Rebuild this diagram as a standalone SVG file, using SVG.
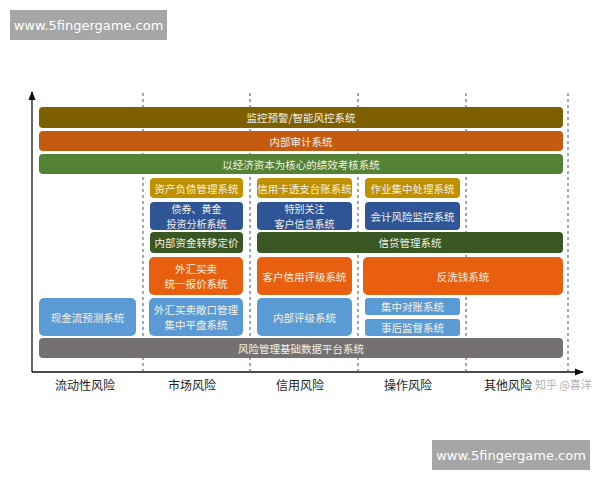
<svg xmlns="http://www.w3.org/2000/svg" width="600" height="480" viewBox="0 0 600 480">
<defs>
<style>
text{font-family:"Noto Sans CJK SC","Liberation Sans",sans-serif;}
.t{fill:#f4f1e6;font-size:10.5px;text-anchor:middle;dominant-baseline:central;}
.t2{fill:#f4f1e6;font-size:10px;text-anchor:middle;dominant-baseline:central;}
.ax{fill:#222;font-size:12px;text-anchor:middle;dominant-baseline:central;}
.dash{stroke:#8497b0;stroke-width:1.6;stroke-dasharray:3,3;fill:none;}
.wm{fill:#a6a6a6;}
.wmt{fill:#fff;font-family:"DejaVu Sans",sans-serif;font-size:13px;text-anchor:middle;dominant-baseline:central;}
.b1{fill:#7f6000;}.b2{fill:#c55a11;}.b3{fill:#548235;}.b4{fill:#bf9000;}
.b5{fill:#2f5597;}.b6{fill:#385723;}.b7{fill:#e8600f;}.b8{fill:#5b9bd5;}.b9{fill:#767171;}
</style>
<marker id="ar" viewBox="0 0 10 10" refX="9" refY="5" markerWidth="7" markerHeight="7" orient="auto-start-reverse">
<path d="M0,1 L10,5 L0,9 z" fill="#111"/>
</marker>
</defs>
<rect width="600" height="480" fill="#fff"/>
<g id="watermark-top"><rect class="wm" x="10" y="10" width="157" height="30"/><text class="wmt" x="88.5" y="25">www.5fingergame.com</text></g>
<g id="watermark-bottom"><rect class="wm" x="432" y="440" width="158" height="30"/><text class="wmt" x="511" y="455">www.5fingergame.com</text></g>
<g id="connectors">
<line class="dash" x1="143" y1="93" x2="143" y2="371"/>
<line class="dash" x1="250" y1="93" x2="250" y2="371"/>
<line class="dash" x1="358" y1="93" x2="358" y2="371"/>
<line class="dash" x1="466" y1="93" x2="466" y2="371"/>
<line class="dash" x1="568" y1="93" x2="568" y2="371"/>
<line x1="32" y1="372" x2="32" y2="92" stroke="#111" stroke-width="1.3" marker-end="url(#ar)"/>
<line x1="32" y1="372" x2="583" y2="372" stroke="#111" stroke-width="1.3" marker-end="url(#ar)"/>
</g>
<g id="n1"><rect class="b1" x="39" y="107" width="524" height="21" rx="4"/><text class="t" x="301" y="117.5">监控预警/智能风控系统</text></g>
<g id="n2"><rect class="b2" x="39" y="131" width="524" height="20" rx="4"/><text class="t" x="301" y="141">内部审计系统</text></g>
<g id="n3"><rect class="b3" x="39" y="154" width="524" height="20" rx="4"/><text class="t" x="301" y="164">以经济资本为核心的绩效考核系统</text></g>
<g id="n4"><rect class="b4" x="150" y="178" width="93" height="20" rx="4"/><text class="t" x="196.5" y="188">资产负债管理系统</text></g>
<g id="n5"><rect class="b4" x="257" y="178" width="95" height="20" rx="4"/><text class="t" x="304.5" y="188">信用卡透支台账系统</text></g>
<g id="n6"><rect class="b4" x="365" y="178" width="95" height="20" rx="4"/><text class="t" x="412.5" y="188">作业集中处理系统</text></g>
<g id="n7"><rect class="b5" x="150" y="202" width="93" height="28" rx="4"/><text class="t2" x="196.5" y="208.5">债券、黄金</text><text class="t2" x="196.5" y="223">投资分析系统</text></g>
<g id="n8"><rect class="b5" x="257" y="202" width="95" height="28" rx="4"/><text class="t2" x="304.5" y="208.5">特别关注</text><text class="t2" x="304.5" y="223">客户信息系统</text></g>
<g id="n9"><rect class="b5" x="365" y="202" width="95" height="28" rx="4"/><text class="t" x="412.5" y="216">会计风险监控系统</text></g>
<g id="n10"><rect class="b6" x="150" y="232" width="93" height="21" rx="4"/><text class="t" x="196.5" y="242.5">内部资金转移定价</text></g>
<g id="n11"><rect class="b6" x="257" y="232" width="306" height="21" rx="4"/><text class="t" x="410" y="242.5">信贷管理系统</text></g>
<g id="n12"><rect class="b7" x="149" y="257" width="94" height="38" rx="5"/><text class="t" x="196" y="268.5">外汇买卖</text><text class="t" x="196" y="283.5">统一报价系统</text></g>
<g id="n13"><rect class="b7" x="257" y="257" width="95" height="38" rx="5"/><text class="t" x="304.5" y="276">客户信用评级系统</text></g>
<g id="n14"><rect class="b7" x="363" y="257" width="200" height="38" rx="5"/><text class="t" x="463" y="276">反洗钱系统</text></g>
<g id="n15"><rect class="b8" x="39" y="298" width="97" height="38" rx="5"/><text class="t" x="87.5" y="317">现金流预测系统</text></g>
<g id="n16"><rect class="b8" x="149" y="298" width="94" height="38" rx="5"/><text class="t" x="196" y="309.5">外汇买卖敞口管理</text><text class="t" x="196" y="324.5">集中平盘系统</text></g>
<g id="n17"><rect class="b8" x="257" y="298" width="95" height="38" rx="5"/><text class="t" x="304.5" y="317">内部评级系统</text></g>
<g id="n18"><rect class="b8" x="365" y="298" width="95" height="17" rx="3"/><text class="t" x="412.5" y="306.5">集中对账系统</text></g>
<g id="n19"><rect class="b8" x="365" y="319" width="95" height="17" rx="3"/><text class="t" x="412.5" y="327.5">事后监督系统</text></g>
<g id="n20"><rect class="b9" x="39" y="338" width="524" height="20" rx="4"/><text class="t" x="301" y="348">风险管理基础数据平台系统</text></g>
<g id="axis-labels">
<text class="ax" x="85" y="384">流动性风险</text>
<text class="ax" x="192" y="384">市场风险</text>
<text class="ax" x="300" y="384">信用风险</text>
<text class="ax" x="408" y="384">操作风险</text>
<text class="ax" x="508" y="384">其他风险</text>
<text x="535" y="384" fill="#b0b0b0" font-size="11px" dominant-baseline="central" style="font-family:'Noto Sans CJK SC',sans-serif">知乎 @喜洋</text>
</g>
</svg>
